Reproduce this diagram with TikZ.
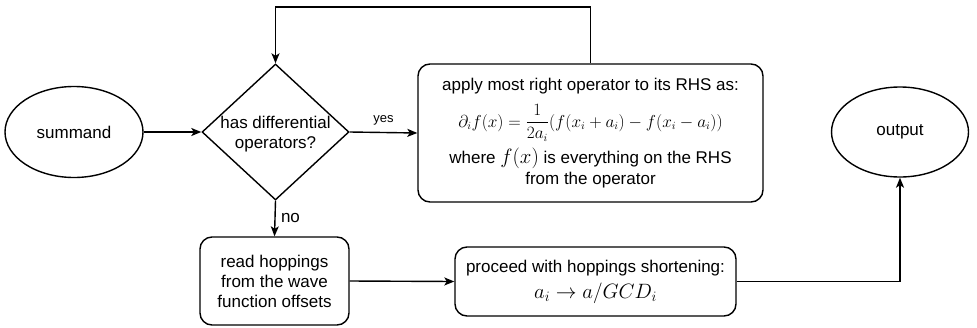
\documentclass[tikz,border=0pt]{standalone}
\usepackage{amsmath,amssymb}
\usepackage{fontspec}
\setmainfont{Liberation Sans}
\usetikzlibrary{shapes.geometric,arrows.meta}

\begin{document}
\begin{tikzpicture}
[x=1pt,y=-1pt,line width=1.4pt,
 every node/.style={font=\fontsize{17}{20}\selectfont},
 box/.style={draw,rounded corners=12pt,align=center,inner sep=0pt},
 oval/.style={draw,ellipse,inner sep=0pt},
 arr/.style={-{Stealth[length=10pt,width=8pt,inset=2.5pt]}}]
\useasboundingbox (0,0) rectangle (977,327);

\node [oval,minimum width=138pt,minimum height=91pt] (summand) at (74,132) {summand};
\node [draw,diamond,minimum width=147pt,minimum height=136pt,inner sep=0pt] (test) at (275.5,132) {};
\node [align=center] (testtext) at (275.5,134) {has differential\\operators?};

\node [box,minimum width=345pt,minimum height=138pt] (apply) at (590.5,133)
{apply most right operator to its RHS as:\\[9pt]
{\fontsize{16}{18}\selectfont $\partial_i f(x) = \dfrac{1}{2a_i}(f(x_i+a_i)-f(x_i-a_i))$}\\[5pt]
where {\fontsize{21}{20}\selectfont $f(x)$} is everything on the RHS\\[1pt]
from the operator};

\node [box,minimum width=149pt,minimum height=88pt] (read) at (274.5,281)
{read hoppings\\from the wave\\function offsets};
\node [box,minimum width=281pt,minimum height=69pt] (shorten) at (595.5,281.5)
{proceed with hoppings shortening:\\[6pt]
{\fontsize{21}{22}\selectfont $a_i\to a/GCD_i$}};

\node [oval,minimum width=137pt,minimum height=90pt] (output) at (900,132) {output};

\coordinate (loop) at (590.5,7);

\draw 
[arr] 
(summand.east)--(test.west);
\draw 
[arr] 
(test.east)--node[above=3pt,font=\fontsize{13}{15}\selectfont] (yes) {yes} (apply.west);
\draw 
[arr] 
(test.south)--node[right=2pt] (no) {no} (read.north);
\draw 
[arr] 
(read.east)--(shorten.west);
\draw 
[arr] 
(shorten.east)-|(output.south);
\draw 
[arr] 
(apply.north)--(loop)-|(test.north);

\end{tikzpicture}
\end{document}
